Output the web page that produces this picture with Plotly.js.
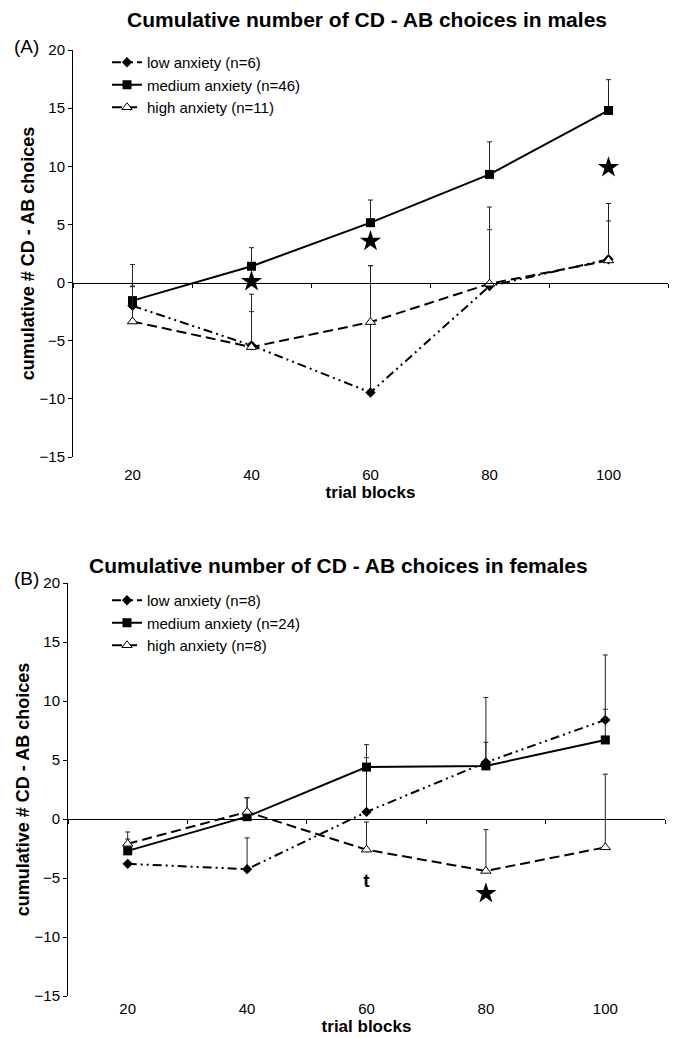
<!DOCTYPE html>
<html><head><meta charset="utf-8">
<script src="https://cdn.plot.ly/plotly-3.0.1.min.js"></script>
<style>html,body{margin:0;padding:0;background:#fff}</style>
</head><body><div id="chart" style="width:676px;height:1038px"></div>
<script>
const blocks = ['20', '40', '60', '80', '100'];

// Panel A: males
const maleLow = [-2.0, -5.4, -9.45, -0.3, 2.0];
const maleLowErr = [1.7, 4.4, 10.9, 6.8, 4.8];
const maleMed = [-1.55, 1.4, 5.15, 9.3, 14.8];
const maleMedErr = [3.1, 1.6, 1.95, 2.8, 2.65];
const maleHigh = [-3.35, -5.55, -3.4, -0.1, 1.9];
const maleHighErr = [3.0, 3.05, 4.85, 4.65, 3.4];
const maleStarBlocks = ['40', '60', '100'];
const maleStarY = [0.1, 3.55, 9.9];

// Panel B: females
const femLow = [-3.8, -4.25, 0.6, 4.8, 8.4];
const femLowErr = [null, 2.65, 4.6, 5.5, 5.5];
const femMed = [-2.7, 0.2, 4.4, 4.5, 6.7];
const femMedErr = [1.0, 1.6, 1.9, 2.0, 2.6];
const femHigh = [-2.1, 0.6, -2.6, -4.4, -2.4];
const femHighErr = [1.0, 1.2, 2.35, 3.5, 6.2];
const femStarBlocks = ['80'];
const femStarY = [-6.3];
const femTBlocks = ['60'];
const femTY = [-5.4];

const W = 676, H = 1038;
const px = v => v / W;
const py = v => 1 - v / H;

const yRange = [-15, 20];
const domXA = [px(73), px(668)];
const domYA = [py(457), py(50)];
const domXB = [px(68), px(665)];
const domYB = [py(996), py(583)];
const zeroPos = d => d[0] + (0 - yRange[0]) / (yRange[1] - yRange[0]) * (d[1] - d[0]);

const FONT = 'Liberation Sans, Arial, sans-serif';
const errStyle = arr => ({type: 'data', array: arr, arrayminus: arr.map(() => 0), symmetric: false,
  color: '#222', thickness: 1, width: 2.5});

function series(x, y, err, name, kind, xa, ya, leg) {
  const base = {x: x, y: y, name: name, type: 'scatter', mode: 'lines+markers', xaxis: xa, yaxis: ya,
    legend: leg, error_y: errStyle(err), cliponaxis: false};
  if (kind === 'low') {
    base.line = {color: '#000', width: 2, dash: '9px,4px,2px,4px,2px,4px'};
    base.marker = {symbol: 'diamond', size: 8, color: '#000'};
  } else if (kind === 'med') {
    base.line = {color: '#000', width: 2};
    base.marker = {symbol: 'square', size: 9, color: '#000'};
  } else {
    base.line = {color: '#000', width: 2, dash: '10px,5px'};
    base.marker = {symbol: 'triangle-up', size: 9, color: '#fff', line: {color: '#000', width: 1}};
  }
  return base;
}

const traces = [
  series(blocks, maleLow, maleLowErr, 'low anxiety (n=6)', 'low', 'x', 'y', 'legend'),
  series(blocks, maleMed, maleMedErr, 'medium anxiety (n=46)', 'med', 'x', 'y', 'legend'),
  series(blocks, maleHigh, maleHighErr, 'high anxiety (n=11)', 'high', 'x', 'y', 'legend'),
  {x: maleStarBlocks, y: maleStarY, type: 'scatter', mode: 'markers', xaxis: 'x3', yaxis: 'y',
   showlegend: false, marker: {symbol: 'star', size: 16, color: '#000'}},
  series(blocks, femLow, femLowErr, 'low anxiety (n=8)', 'low', 'x2', 'y2', 'legend2'),
  series(blocks, femMed, femMedErr, 'medium anxiety (n=24)', 'med', 'x2', 'y2', 'legend2'),
  series(blocks, femHigh, femHighErr, 'high anxiety (n=8)', 'high', 'x2', 'y2', 'legend2'),
  {x: femStarBlocks, y: femStarY, type: 'scatter', mode: 'markers', xaxis: 'x4', yaxis: 'y2',
   showlegend: false, marker: {symbol: 'star', size: 16, color: '#000'}},
  {x: femTBlocks, y: femTY, text: ['t'], type: 'scatter', mode: 'text', xaxis: 'x4', yaxis: 'y2',
   showlegend: false, textfont: {family: FONT, size: 19, color: '#000', weight: 'bold'}}
];

const tickFont = {family: FONT, size: 15, color: '#000'};
const yTitle = {text: 'cumulative # CD - AB choices', font: {family: FONT, size: 18, color: '#000', weight: 'bold'}, standoff: 0};
const xTitle = {text: 'trial blocks', font: {family: FONT, size: 17, color: '#000', weight: 'bold'}, standoff: 0};

function yAx(dom, anchor) {
  return {domain: dom, anchor: anchor, range: yRange, tick0: 0, dtick: 5, showline: true, linecolor: '#000',
    linewidth: 1, ticks: 'outside', ticklen: 4, tickcolor: '#000', zeroline: false, showgrid: false,
    tickfont: tickFont, title: yTitle, fixedrange: true};
}
function xAx(dom, anchor, labelGap) {
  return {domain: dom, anchor: anchor, type: 'category', categoryarray: blocks, categoryorder: 'array',
    range: [-0.5, 4.5], showline: false, ticks: '', ticklabelstandoff: labelGap, zeroline: false, showgrid: false,
    tickfont: tickFont, title: xTitle, fixedrange: true};
}
function zeroAx(over, pos) {
  return {overlaying: over, anchor: 'free', position: pos, type: 'category', categoryarray: blocks,
    categoryorder: 'array', range: [-0.5, 4.5], showline: true, linecolor: '#000', linewidth: 1,
    ticks: 'outside', tickson: 'boundaries', ticklen: 4, tickcolor: '#000', showticklabels: false,
    showgrid: false, zeroline: false, fixedrange: true};
}

const legFont = {family: FONT, size: 15, color: '#000'};
const layout = {
  width: W, height: H, margin: {l: 0, r: 0, t: 0, b: 0},
  paper_bgcolor: '#fff', plot_bgcolor: 'rgba(0,0,0,0)',
  font: {family: FONT, color: '#000'},
  title: {text: 'Cumulative number of CD - AB choices in males', x: px(367), xanchor: 'center',
    y: py(20), yanchor: 'middle', font: {family: FONT, size: 21, color: '#000', weight: 'bold'}},
  xaxis: xAx(domXA, 'y', 7),
  yaxis: yAx(domYA, 'x'),
  xaxis2: xAx(domXB, 'y2', 2),
  yaxis2: yAx(domYB, 'x2'),
  xaxis3: zeroAx('x', zeroPos(domYA)),
  xaxis4: zeroAx('x2', zeroPos(domYB)),
  legend: {x: px(107), y: py(46), xanchor: 'left', yanchor: 'top', bgcolor: 'rgba(0,0,0,0)',
    font: legFont, itemwidth: 30, tracegroupgap: 0},
  legend2: {x: px(107), y: py(584), xanchor: 'left', yanchor: 'top', bgcolor: 'rgba(0,0,0,0)',
    font: legFont, itemwidth: 30, tracegroupgap: 0},
  annotations: [
    {text: 'Cumulative number of CD - AB choices in females', xref: 'paper', yref: 'paper',
     x: px(339), y: py(565), xanchor: 'center', yanchor: 'middle', showarrow: false,
     font: {family: FONT, size: 21, color: '#000', weight: 'bold'}},
    {text: '(A)', xref: 'paper', yref: 'paper', x: px(26), y: py(47), xanchor: 'center', yanchor: 'middle',
     showarrow: false, font: {family: FONT, size: 19, color: '#000'}},
    {text: '(B)', xref: 'paper', yref: 'paper', x: px(26), y: py(578), xanchor: 'center', yanchor: 'middle',
     showarrow: false, font: {family: FONT, size: 19, color: '#000'}}
  ],
  showlegend: true
};

Plotly.newPlot('chart', traces, layout, {displayModeBar: false, staticPlot: true});
</script></body></html>
